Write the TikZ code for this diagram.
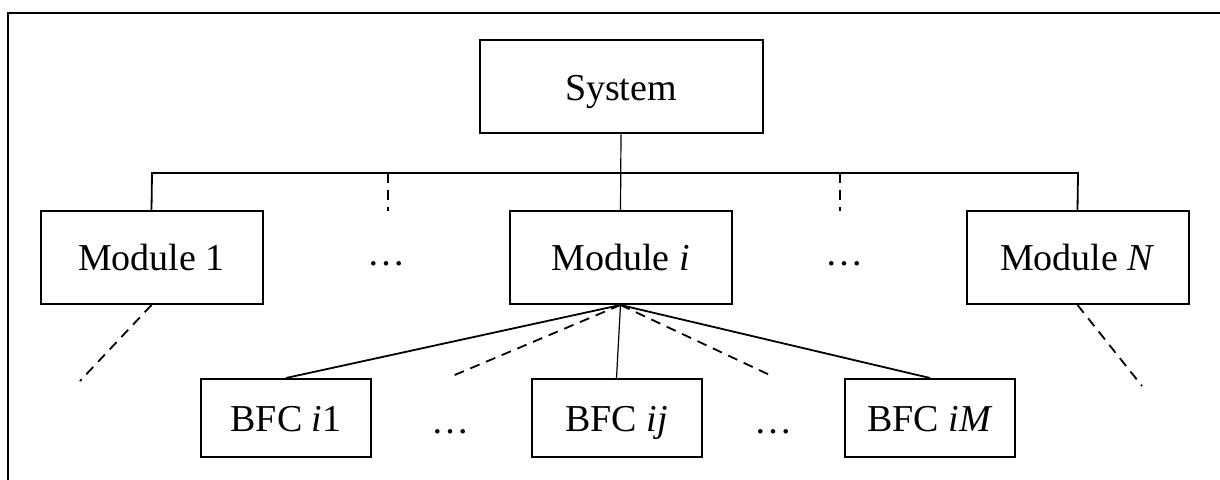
\documentclass[tikz,border=0pt]{standalone}
\usepackage{fontspec}
\setmainfont{Liberation Serif}
\begin{document}
\begin{tikzpicture}[x=0.5pt,y=-0.5pt,
  box/.style={draw,line width=1pt,rectangle,inner sep=0pt,text height=14pt,text depth=0.5pt,font=\fontsize{19}{21}\selectfont},
  modbox/.style={box,minimum width=111pt,minimum height=46.5pt},
  bfcbox/.style={box,minimum width=85pt,minimum height=39pt},
  dots/.style={inner sep=0pt,font=\fontsize{19}{21}\selectfont},
  conn/.style={line width=0.9pt},
  thinconn/.style={line width=0.6pt},
  dashconn/.style={line width=0.9pt,dash pattern=on 5pt off 3.5pt}]
\useasboundingbox (0,0) rectangle (1220,480);
\draw[line width=1pt] (8,480) -- (8,13) -- (1220,13);
\node[box,minimum width=141.5pt,minimum height=46.5pt] (sys) at (621,87) {System};
\node[modbox] (m1) at (151.5,257.5) {Module 1};
\node[modbox] (mi) at (620.5,257.5) {Module \textit{i}};
\node[modbox] (mN) at (1077.5,257.5) {Module \textit{N}};
\node[dots] (e1) at (386,264) {\ldots};
\node[dots] (e2) at (844,264) {\ldots};
\node[bfcbox] (b1) at (286,418) {BFC \textit{i}1};
\node[bfcbox] (bj) at (616.5,418) {BFC \textit{ij}};
\node[bfcbox] (bM) at (930,418) {BFC \textit{iM}};
\node[dots] (e3) at (450,432) {\ldots};
\node[dots] (e4) at (773,432) {\ldots};
\coordinate (bl) at (152,173);
\coordinate (br) at (1078,173);
\coordinate (d1t) at (388,173);
\coordinate (d1b) at (388,211);
\coordinate (d2t) at (840,173);
\coordinate (d2b) at (840,211);
\coordinate (f1) at (450,377);
\coordinate (f2) at (774,377);
\coordinate (l1) at (80,381);
\coordinate (lN) at (1142,386);
\draw[thinconn] (sys.south) -- (mi.north);
\draw[conn] (m1.north) -- (bl) -- (br) -- (mN.north);
\draw[dashconn] (d1t) -- (d1b);
\draw[dashconn] (d2t) -- (d2b);
\draw[conn] (mi.south) -- (b1.north);
\draw[conn] (mi.south) -- (bM.north);
\draw[thinconn] (mi.south) -- (bj.north);
\draw[dashconn] (mi.south) -- (f1);
\draw[dashconn] (mi.south) -- (f2);
\draw[dashconn] (m1.south) -- (l1);
\draw[dashconn] (mN.south) -- (lN);
\end{tikzpicture}
\end{document}
